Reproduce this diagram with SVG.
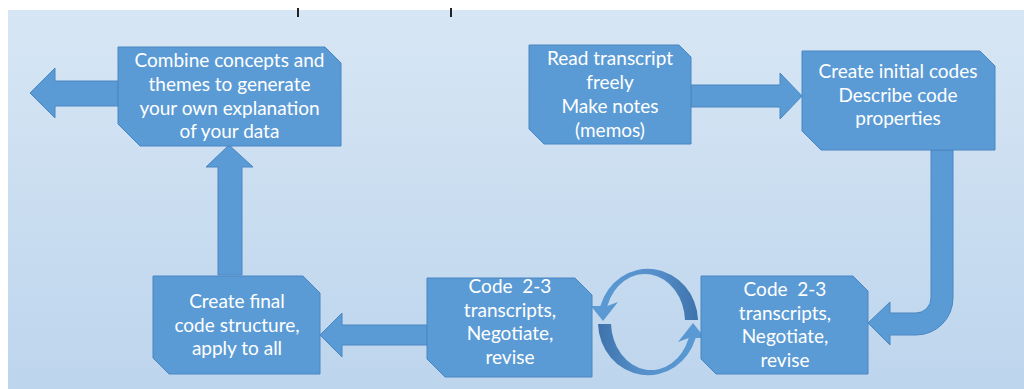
<svg xmlns="http://www.w3.org/2000/svg" width="1024" height="389" viewBox="0 0 1024 389">
  <defs>
    <linearGradient id="bg" x1="0" y1="0" x2="0" y2="1">
      <stop offset="0" stop-color="#d7e6f4"/>
      <stop offset="1" stop-color="#bdd5ed"/>
    </linearGradient>
    <linearGradient id="curv" x1="0" y1="0" x2="1" y2="0">
      <stop offset="0" stop-color="#5b9bd5"/>
      <stop offset="0.6" stop-color="#5690cb"/>
      <stop offset="1" stop-color="#3e72ab"/>
    </linearGradient>
    <path id="curvedArrow" d="M 698,320 A 50,53 0 0 0 600.3,306 L 591,306 L 603,321 L 618,302 L 607.3,306 A 40,48 0 0 1 685,320 Z"/>
  </defs>
  <style>
    .box { fill: #5b9bd5; stroke: #4a86c1; stroke-width: 1; }
    .arrow { fill: #5b9bd5; stroke: #4a86c1; stroke-width: 1; }
    .lbl { font-family: Lato, "Open Sans", sans-serif; font-size: 19px; fill: #ffffff; text-anchor: middle; }
  </style>
  <rect x="0" y="0" width="1024" height="389" fill="#ffffff"/>
  <rect x="8" y="10" width="1016" height="379" fill="url(#bg)"/>
  <rect x="297" y="8" width="2" height="9" fill="#222"/>
  <rect x="450" y="8" width="2" height="9" fill="#222"/>

  <g id="connectors">
    <path class="arrow" d="M 118,81 L 55,81 L 55,68 L 30,93 L 55,118 L 55,106 L 118,106 Z"/>
    <path class="arrow" d="M 218,275 L 218,167 L 206,167 L 229,145 L 253,167 L 242,167 L 242,275 Z"/>
    <path class="arrow" d="M 691,85 L 780,85 L 780,73 L 802,96 L 780,119 L 780,107 L 691,107 Z"/>
    <path class="arrow" d="M 953,150 L 953,298 A 37,37 0 0 1 916,335 L 890,335 L 890,345 L 868,323 L 890,302 L 890,313 L 916,313 A 15,15 0 0 0 931,298 L 931,150 Z"/>
    <path class="arrow" d="M 427,325 L 342,325 L 342,313 L 320,335 L 342,357 L 342,345 L 427,345 Z"/>
    <use href="#curvedArrow" fill="url(#curv)"/>
    <use href="#curvedArrow" fill="url(#curv)" transform="rotate(180 648 322)"/>
  </g>

  <g id="combine">
    <path class="box" d="M 118,47 L 325,47 L 341,63 L 341,146 L 140,146 L 118,124 Z"/>
    <text class="lbl"><tspan x="229.5" y="67">Combine concepts and</tspan><tspan x="229.5" y="91">themes to generate</tspan><tspan x="229.5" y="115">your own explanation</tspan><tspan x="229.5" y="138">of your data</tspan></text>
  </g>

  <g id="read">
    <path class="box" d="M 529,45 L 679,45 L 691,57 L 691,144 L 544,144 L 529,129 Z"/>
    <text class="lbl"><tspan x="610" y="65">Read transcript</tspan><tspan x="610" y="89">freely</tspan><tspan x="610" y="113">Make notes</tspan><tspan x="610" y="137">(memos)</tspan></text>
  </g>

  <g id="initial">
    <path class="box" d="M 802,51 L 980,51 L 995,66 L 995,150 L 821,150 L 802,131 Z"/>
    <text class="lbl"><tspan x="898" y="78">Create initial codes</tspan><tspan x="898" y="102">Describe code</tspan><tspan x="898" y="125">properties</tspan></text>
  </g>

  <g id="code-right">
    <path class="box" d="M 701,276 L 853,276 L 868,291 L 868,374 L 716,374 L 701,359 Z"/>
    <text class="lbl" xml:space="preserve"><tspan x="785" y="296">Code  2-3</tspan><tspan x="785" y="320">transcripts,</tspan><tspan x="785" y="343">Negotiate,</tspan><tspan x="785" y="367">revise</tspan></text>
  </g>

  <g id="code-middle">
    <path class="box" d="M 427,278 L 575,278 L 592,295 L 592,377 L 445,377 L 427,359 Z"/>
    <text class="lbl" xml:space="preserve"><tspan x="510" y="293">Code  2-3</tspan><tspan x="510" y="317">transcripts,</tspan><tspan x="510" y="340">Negotiate,</tspan><tspan x="510" y="364">revise</tspan></text>
  </g>

  <g id="final">
    <path class="box" d="M 153,276 L 303,276 L 320,293 L 320,374 L 169,374 L 153,358 Z"/>
    <text class="lbl"><tspan x="237" y="308">Create final</tspan><tspan x="237" y="332">code structure,</tspan><tspan x="237" y="355">apply to all</tspan></text>
  </g>
</svg>
